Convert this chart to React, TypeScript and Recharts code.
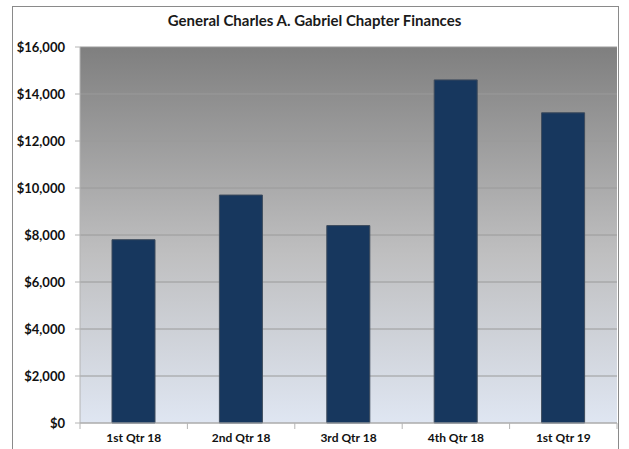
import { Bar, BarChart, CartesianGrid, XAxis, YAxis } from "recharts";

const TITLE = "General Charles A. Gabriel Chapter Finances";
const QUARTERS = ["1st Qtr 18", "2nd Qtr 18", "3rd Qtr 18", "4th Qtr 18", "1st Qtr 19"];
const FUNDS = [7800, 9700, 8400, 14600, 13200];
const Y_TICKS = [0, 2000, 4000, 6000, 8000, 10000, 12000, 14000, 16000];

const data = QUARTERS.map((q, i) => ({ quarter: q, funds: FUNDS[i] }));

const FONT = "Lato, 'Open Sans', sans-serif";
const NAVY = "#17375e";
const AXIS = "#b4b4b4";

function QuarterTick(props: any) {
  const { x, y, payload, index, width } = props;
  const band = (width ?? 537) / QUARTERS.length;
  const left = x - band / 2;
  return (
    <g>
      <line x1={left} y1={y} x2={left} y2={y + 6} stroke={AXIS} />
      {index === QUARTERS.length - 1 && (
        <line x1={left + band} y1={y} x2={left + band} y2={y + 6} stroke={AXIS} />
      )}
      <text
        x={x}
        y={y + 19}
        textAnchor="middle"
        fill="#111"
        fontFamily={FONT}
        fontWeight={700}
        fontSize={12}
      >
        {payload.value}
      </text>
    </g>
  );
}

export default function App() {
  return (
    <div
      style={{
        position: "absolute",
        left: 0,
        top: 0,
        width: 629,
        height: 449,
        background: "#fff",
        overflow: "hidden",
      }}
    >
      <div
        style={{
          position: "absolute",
          left: 12,
          top: 6,
          width: 607,
          height: 460,
          border: "1px solid #8a8a8a",
          boxSizing: "border-box",
        }}
      />
      <div
        style={{
          position: "absolute",
          left: 0,
          top: 11,
          width: 629,
          textAlign: "center",
          fontFamily: FONT,
          fontWeight: 700,
          fontSize: 15,
          color: "#1a1a1a",
        }}
      >
        {TITLE}
      </div>
      <div style={{ position: "absolute", left: 0, top: 0 }}>
        <BarChart
          width={629}
          height={449}
          data={data}
          margin={{ top: 47, right: 12, bottom: 0, left: 0 }}
        >
          <defs>
            <linearGradient id="plotBg" x1="0" y1="0" x2="0" y2="1">
              <stop offset="0" stopColor="#7f7f7f" />
              <stop offset="0.55" stopColor="#bfbfc0" />
              <stop offset="1" stopColor="#dfe6f2" />
            </linearGradient>
          </defs>
          <CartesianGrid
            vertical={false}
            fill="url(#plotBg)"
            fillOpacity={1}
            stroke="#9a9a9a"
          />
          <XAxis
            dataKey="quarter"
            height={26}
            tickSize={0}
            tickMargin={0}
            axisLine={{ stroke: AXIS }}
            tickLine={false}
            interval={0}
            tick={<QuarterTick />}
          />
          <YAxis
            width={80}
            domain={[0, 16000]}
            ticks={Y_TICKS}
            interval={0}
            tickSize={5}
            tickMargin={10}
            axisLine={{ stroke: AXIS }}
            tickLine={{ stroke: AXIS }}
            tick={{ fill: "#111", fontFamily: FONT, fontWeight: 700, fontSize: 13 }}
            tickFormatter={(v: number) => `$${v.toLocaleString("en-US")}`}
          />
          <Bar
            dataKey="funds"
            barSize={43}
            fill={NAVY}
            stroke="#3d4b5c"
            strokeWidth={1}
            isAnimationActive={false}
          />
        </BarChart>
      </div>
    </div>
  );
}
